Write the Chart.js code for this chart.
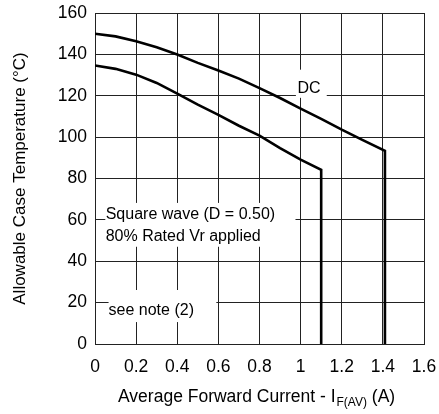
<!DOCTYPE html>
<html>
<head>
<meta charset="utf-8">
<script src="https://cdn.jsdelivr.net/npm/chart.js@4.4.1/dist/chart.umd.min.js"></script>
<style>
  html, body { margin: 0; padding: 0; background: #fff; }
  #wrap { width: 439px; height: 414px; }
</style>
</head>
<body>
<div id="wrap"><canvas id="derating"></canvas></div>
<script>
// values
const xTicks = [0, 0.2, 0.4, 0.6, 0.8, 1.0, 1.2, 1.4, 1.6];
const yTicks = [0, 20, 40, 60, 80, 100, 120, 140, 160];

const dcCurrent = [0, 0.1, 0.2, 0.3, 0.4, 0.5, 0.6, 0.7, 0.8, 0.9, 1.0, 1.1, 1.2, 1.3, 1.41, 1.41];
const dcTemp    = [150, 148.7, 146.3, 143.4, 139.9, 135.9, 132.2, 128.3, 123.7, 118.9, 113.8, 108.8, 103.6, 98.7, 93.4, 0];

const sqCurrent = [0, 0.1, 0.2, 0.3, 0.4, 0.5, 0.6, 0.7, 0.8, 0.9, 1.0, 1.1, 1.1];
const sqTemp    = [134.6, 133.0, 130.2, 126.2, 121.0, 115.7, 110.8, 105.5, 100.7, 94.7, 89.1, 84.2, 0];

const toPoints = (xs, ys) => xs.map((x, i) => ({ x: x, y: ys[i] }));

// text boxes that blank out the grid behind them (data coords)
const notes = [
    { lines: ['DC'], x: 0.985, y: 123.4, box: [0.977, 132.6, 1.127, 119] },
    { lines: ['Square wave (D = 0.50)', '80% Rated Vr applied'], x: 0.052, y: 62.4, lh: 10.6, box: [0.05, 68.2, 0.975, 47] },
    { lines: ['see note (2)'], x: 0.066, y: 16.3, box: [0.066, 26.1, 0.59, 10.6] }
];

const FONT = '"Liberation Sans", Arial, sans-serif';

const notesPlugin = {
    id: 'notes',
    beforeDatasetsDraw(chart) {
        const { ctx, scales: { x, y } } = chart;
        ctx.save();
        notes.forEach(n => {
            const [x0, y0, x1, y1] = n.box;
            ctx.fillStyle = '#fff';
            ctx.fillRect(x.getPixelForValue(x0), y.getPixelForValue(y0),
                x.getPixelForValue(x1) - x.getPixelForValue(x0),
                y.getPixelForValue(y1) - y.getPixelForValue(y0));
            ctx.fillStyle = '#000';
            ctx.font = '16px ' + FONT;
            ctx.textBaseline = 'middle';
            ctx.textAlign = 'left';
            n.lines.forEach((t, i) => {
                ctx.fillText(t, x.getPixelForValue(n.x), y.getPixelForValue(n.y - i * (n.lh || 0)));
            });
        });
        ctx.restore();
    },
    afterDraw(chart) {
        const { ctx, chartArea } = chart;
        ctx.save();
        ctx.fillStyle = '#000';
        ctx.textBaseline = 'middle';

        // y title
        ctx.save();
        ctx.translate(20, (chartArea.top + chartArea.bottom) / 2);
        ctx.rotate(-Math.PI / 2);
        ctx.textAlign = 'center';
        ctx.font = '17px ' + FONT;
        ctx.fillText('Allowable Case Temperature (°C)', 0, 0);
        ctx.restore();

        // x title with subscript
        const main = 'Average Forward Current - I';
        const sub = 'F(AV)';
        const tail = ' (A)';
        ctx.font = '17.5px ' + FONT;
        const wMain = ctx.measureText(main).width;
        ctx.font = '12px ' + FONT;
        const wSub = ctx.measureText(sub).width;
        const cx = 118;
        const cy = 397;
        ctx.textAlign = 'left';
        ctx.font = '17.5px ' + FONT;
        ctx.fillText(main, cx, cy);
        ctx.font = '12px ' + FONT;
        ctx.fillText(sub, cx + wMain + 1, cy + 6);
        ctx.font = '17.5px ' + FONT;
        ctx.fillText(tail, cx + wMain + wSub + 1, cy);
        ctx.restore();
    }
};

const curveStyle = {
    borderColor: '#000',
    borderWidth: 2.6,
    pointRadius: 0,
    fill: false,
    tension: 0
};

new Chart(document.getElementById('derating'), {
    type: 'line',
    data: {
        datasets: [
            { label: 'DC', data: toPoints(dcCurrent, dcTemp), ...curveStyle },
            { label: 'Square wave', data: toPoints(sqCurrent, sqTemp), ...curveStyle }
        ]
    },
    options: {
        responsive: true,
        maintainAspectRatio: false,
        animation: false,
        layout: { padding: { left: 0, right: 15, top: 13, bottom: 0 } },
        plugins: {
            legend: { display: false },
            tooltip: { enabled: false }
        },
        scales: {
            x: {
                type: 'linear',
                min: 0,
                max: 1.6,
                afterBuildTicks: s => { s.ticks = xTicks.map(v => ({ value: v })); },
                afterFit: s => { s.height = 70; s.paddingLeft = 0; s.paddingRight = 0; },
                grid: { color: '#222', lineWidth: 1, drawTicks: false },
                border: { color: '#222', width: 1 },
                ticks: {
                    padding: 13,
                    color: '#000',
                    font: { family: FONT, size: 17.5 },
                    callback: v => String(+v.toFixed(1))
                }
            },
            y: {
                type: 'linear',
                min: 0,
                max: 160,
                afterBuildTicks: s => { s.ticks = yTicks.map(v => ({ value: v })); },
                afterFit: s => { s.width = 95; s.paddingTop = 0; s.paddingBottom = 0; },
                grid: { color: '#222', lineWidth: 1, drawTicks: false },
                border: { color: '#222', width: 1 },
                ticks: {
                    padding: 8,
                    color: '#000',
                    font: { family: FONT, size: 17.5 },
                    callback: v => String(v)
                }
            }
        }
    },
    plugins: [notesPlugin]
});
</script>
</body>
</html>
